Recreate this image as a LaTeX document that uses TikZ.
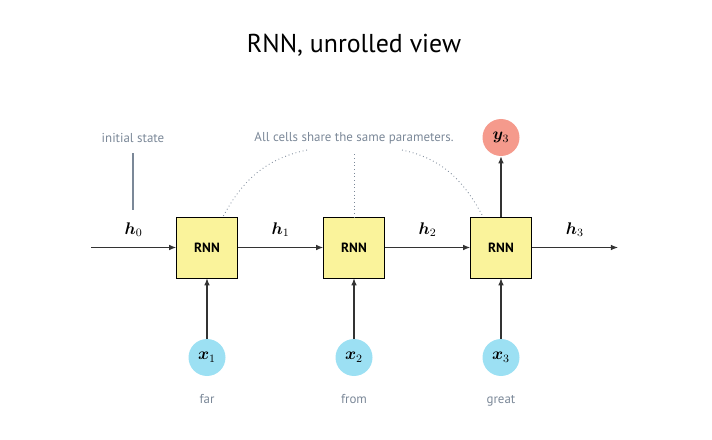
\documentclass[tikz,border=0pt]{standalone}
\usepackage{fontspec}
\usepackage{amsmath}
\usepackage{bm}
\setmainfont{PT Sans}
\usetikzlibrary{arrows.meta}
\definecolor{cellyellow}{HTML}{FAF39B}
\definecolor{inblue}{HTML}{9CE0F3}
\definecolor{outred}{HTML}{F59A8C}
\definecolor{notegray}{HTML}{7B8898}
\tikzset{
  cell/.style={draw=black, fill=cellyellow, minimum size=61*0.025cm, inner sep=0pt, font=\fontsize{9.5}{11}\selectfont\bfseries},
  inp/.style={circle, fill=inblue, minimum size=37*0.025cm, inner sep=0pt, font=\large},
  outp/.style={circle, fill=outred, minimum size=37*0.025cm, inner sep=0pt, font=\large},
  note/.style={text=notegray, font=\fontsize{9.2}{11}\selectfont},
  flow/.style={thick, draw=black!80, -{Latex[length=5pt,width=4pt]}},
  share/.style={dotted, semithick, draw=notegray}
}
\begin{document}
\begin{tikzpicture}[x=0.025cm, y=-0.025cm]
  \useasboundingbox (0,0) rectangle (712,440);

  %title
  \node (title) at (354,45) {\fontsize{18.4}{22}\selectfont RNN, unrolled view};

  %cells
  \node[cell] (rnn1) at (207,247.5) {RNN};
  \node[cell] (rnn2) at (354,247.5) {RNN};
  \node[cell] (rnn3) at (501,247.5) {RNN};

  %inputs
  \node[inp] (x1) at (207,357.5) {$\bm{x}_1$};
  \node[inp] (x2) at (354,357.5) {$\bm{x}_2$};
  \node[inp] (x3) at (501,357.5) {$\bm{x}_3$};

  %words
  \node[note, anchor=base] (w1) at (207,403) {far};
  \node[note, anchor=base] (w2) at (354,403) {from};
  \node[note, anchor=base] (w3) at (501,403) {great};

  %output
  \node[outp] (y3) at (501,137.5) {$\bm{y}_3$};

  %hidden states
  \coordinate (hin) at (91,247.5);
  \coordinate (hout) at (618,247.5);
  \draw[flow] (hin) -- (rnn1) node[midway, above=4pt, font=\large] (h0) {$\bm{h}_0$};
  \draw[flow] (rnn1) -- (rnn2) node[midway, above=4pt, font=\large] (h1) {$\bm{h}_1$};
  \draw[flow] (rnn2) -- (rnn3) node[midway, above=4pt, font=\large] (h2) {$\bm{h}_2$};
  \draw[flow] (rnn3) -- (hout) node[midway, above=4pt, font=\large] (h3) {$\bm{h}_3$};

  %input and output arrows
  \draw[flow] (x1) -- (rnn1);
  \draw[flow] (x2) -- (rnn2);
  \draw[flow] (x3) -- (rnn3);
  \draw[flow] (rnn3) -- (y3);

  %notes
  \node[note] (init) at (133,138) {initial state};
  \coordinate (initend) at (133,210);
  \draw[thick, draw=notegray] (init.south) ++(0,-4pt) -- (initend);

  \node[note] (same) at (354,138) {All cells share the same parameters.};
  \coordinate (sa) at (307,150);
  \coordinate (sb) at (402,150);
  \draw[share] (sa) to[out=192, in=62] (rnn1.north -| 223,0);
  \draw[share] (same.south) ++(0,-4pt) -- (rnn2.north);
  \draw[share] (sb) to[out=-12, in=118] (rnn3.north -| 483,0);

  \end{tikzpicture}
\end{document}
